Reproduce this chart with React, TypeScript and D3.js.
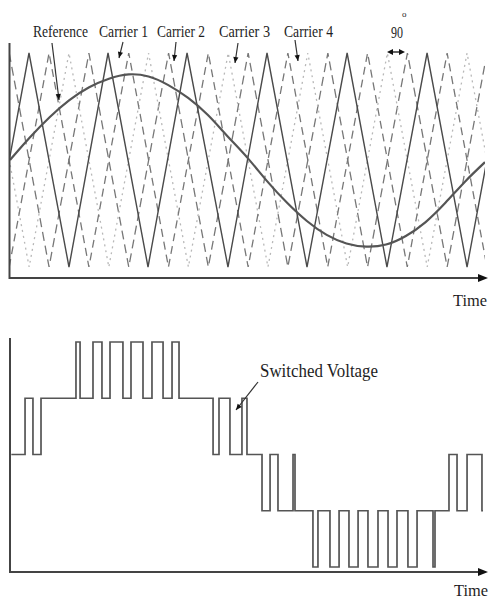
import React from 'react';
import * as d3 from 'd3';

const W = 491;
const H = 599;

// Reference (modulating) wave: angle (deg) -> value (carrier peak = 1)
const refAngles = [0, 15, 30, 45, 60, 75, 90, 105, 120, 135, 150, 165, 180, 195, 210, 225, 240, 255, 270, 285, 300, 315, 330, 345, 360];
const refValues = [0, 0.21, 0.4, 0.56, 0.68, 0.76, 0.8, 0.78, 0.7, 0.58, 0.42, 0.22, 0.02, -0.2, -0.4, -0.57, -0.7, -0.78, -0.81, -0.79, -0.71, -0.58, -0.4, -0.2, -0.02];

// Carrier vertices (deg): peaks (+1) and troughs (-1)
const carrier1Peaks = [14.4, 74.3, 134.2, 194.8, 255.5, 316.1, 376.5];
const carrier1Troughs = [-15.5, 44.7, 104.6, 165.2, 225.1, 285.7, 346.4];
const carrier2Peaks = [29.6, 90, 150.3, 210.6, 271, 331.3];
const carrier2Troughs = [-0.6, 59.8, 120.1, 180.5, 240.8, 301.1, 361.5];
const carrier3Peaks = [-15.6, 44.7, 105, 165.4, 225.7, 286, 346.4];
const carrier3Troughs = [14.5, 74.9, 135.2, 195.5, 255.9, 316.2, 376.5];
const carrier4Peaks = [-0.6, 59.8, 120.2, 180.5, 240.9, 301.2, 361.5];
const carrier4Troughs = [29.6, 90, 150.3, 210.6, 271, 331.3];

const carrierLabels = ['Carrier 1', 'Carrier 2', 'Carrier 3', 'Carrier 4'];

// Switched voltage: switching instants (deg) and the level taken at each instant
const switchTimes = [1, 11.4, 17.4, 23.5, 50, 53.1, 62.9, 69.7, 75.8, 85.6, 91.7, 100.8, 107.6, 116, 122.8, 128.1, 153.9, 158.4, 166.7, 175.8, 179.6, 191, 197.1, 203.1, 214.5, 216, 229.6, 233.4, 242.5, 249.4, 256.9, 263.8, 271.3, 278.9, 286.5, 293.3, 301.6, 308.5, 320.6, 322.1, 332.7, 338.8, 346.4, 357.7, 358.5];
const switchLevels = [0, 1, 0, 1, 2, 1, 2, 1, 2, 1, 2, 1, 2, 1, 2, 1, 0, 1, 0, 1, 0, -1, 0, -1, 0, -1, -2, -1, -2, -1, -2, -1, -2, -1, -2, -1, -2, -1, -2, -1, 0, -1, 0, -1, -1];

const FONT = '"Liberation Serif", "Times New Roman", serif';
const INK = '#1e1e1e';

function head(x1: number, y1: number, x2: number, y2: number, len = 6, hw = 2.6) {
  const a = Math.atan2(y2 - y1, x2 - x1);
  const bx = x2 - len * Math.cos(a);
  const by = y2 - len * Math.sin(a);
  const px = -Math.sin(a) * hw;
  const py = Math.cos(a) * hw;
  return `${x2},${y2} ${bx + px},${by + py} ${bx - px},${by - py}`;
}

function Pointer({ x1, y1, x2, y2 }: { x1: number; y1: number; x2: number; y2: number }) {
  return (
    <g>
      <line x1={x1} y1={y1} x2={x2} y2={y2} stroke="#333" strokeWidth={1.2} />
      <polygon points={head(x1, y1, x2, y2)} fill="#111" />
    </g>
  );
}

function Label({ x, y, len, size = 17, children }: { x: number; y: number; len: number; size?: number; children: React.ReactNode }) {
  return (
    <text
      x={x}
      y={y}
      fontFamily={FONT}
      fontSize={size}
      fill={INK}
      textLength={len}
      lengthAdjust="spacingAndGlyphs"
    >
      {children}
    </text>
  );
}

export default function App() {
  const x = d3.scaleLinear().domain([0, 360]).range([10, 485]);
  const yTop = d3.scaleLinear().domain([-1, 1]).range([267, 53]);
  const yBot = d3.scaleLinear().domain([-2, 2]).range([567, 342]);

  const lineTop = d3
    .line<[number, number]>()
    .x((d) => x(d[0]))
    .y((d) => yTop(d[1]));

  const carrierPts = (peaks: number[], troughs: number[]) =>
    [...peaks.map((p) => [p, 1] as [number, number]), ...troughs.map((t) => [t, -1] as [number, number])].sort(
      (a, b) => a[0] - b[0]
    );

  const carriers = [
    { pts: carrierPts(carrier1Peaks, carrier1Troughs), stroke: '#4a4a4a', dash: undefined, w: 1.4 },
    { pts: carrierPts(carrier2Peaks, carrier2Troughs), stroke: '#777', dash: '8,5', w: 1.3 },
    { pts: carrierPts(carrier3Peaks, carrier3Troughs), stroke: '#b8b8b8', dash: '2,4', w: 1.3 },
    { pts: carrierPts(carrier4Peaks, carrier4Troughs), stroke: '#777', dash: '9,5', w: 1.3 },
  ];

  const refLine = d3
    .line<[number, number]>()
    .x((d) => x(d[0]))
    .y((d) => yTop(d[1]))
    .curve(d3.curveNatural);
  const refPts = refAngles.map((a, i) => [a, refValues[i]] as [number, number]);

  const stepLine = d3
    .line<[number, number]>()
    .x((d) => x(d[0]))
    .y((d) => yBot(d[1]))
    .curve(d3.curveStepAfter);
  const stepPts = switchTimes.map((t, i) => [t, switchLevels[i]] as [number, number]);

  const labelX = [99, 157, 219, 284];
  const labelLen = [49, 48, 51, 49];
  const pointers = [
    [123, 42, 119, 58],
    [176, 42, 174, 61],
    [238, 43, 235, 63],
    [295, 40, 298, 61],
  ];

  return (
    <svg width={W} height={H} style={{ position: 'absolute', left: 0, top: 0, background: '#fff' }}>
      <defs>
        <clipPath id="plotTop">
          <rect x={10} y={40} width={475} height={240} />
        </clipPath>
      </defs>
      <rect x={0} y={0} width={W} height={H} fill="#fff" />

      {/* ---------- top panel ---------- */}
      <g clipPath="url(#plotTop)">
        {carriers
          .slice()
          .reverse()
          .map((c, i) => (
            <path
              key={i}
              d={lineTop(c.pts) || ''}
              fill="none"
              stroke={c.stroke}
              strokeWidth={c.w}
              strokeDasharray={c.dash}
            />
          ))}
        <path d={refLine(refPts) || ''} fill="none" stroke="#555" strokeWidth={2.2} />
      </g>

      {/* axes top */}
      <line x1={9.5} y1={43} x2={9.5} y2={279} stroke="#444" strokeWidth={2} />
      <line x1={9} y1={278} x2={480} y2={278} stroke="#444" strokeWidth={2} />
      <polygon points={head(470, 278, 488, 278, 10, 4)} fill="#111" />

      {/* labels top */}
      <Label x={33} y={37} len={55}>Reference</Label>
      <Pointer x1={52} y1={43} x2={59} y2={100} />
      {carrierLabels.map((l, i) => (
        <g key={l}>
          <Label x={labelX[i]} y={37} len={labelLen[i]}>
            {l}
          </Label>
          <Pointer x1={pointers[i][0]} y1={pointers[i][1]} x2={pointers[i][2]} y2={pointers[i][3]} />
        </g>
      ))}

      {/* 90 degree annotation */}
      <Label x={391} y={38} len={12} size={16}>90</Label>
      <text x={402} y={17} fontFamily={FONT} fontSize={9} fill={INK}>
        o
      </text>
      <line x1={390} y1={52} x2={402} y2={52} stroke="#111" strokeWidth={1.3} />
      <polygon points={head(400, 52, 387, 52, 6, 3)} fill="#111" />
      <polygon points={head(392, 52, 405, 52, 6, 3)} fill="#111" />

      <Label x={453} y={306} len={34}>Time</Label>

      {/* ---------- bottom panel ---------- */}
      <path d={stepLine(stepPts) || ''} fill="none" stroke="#555" strokeWidth={1.7} />

      <line x1={10} y1={338} x2={10} y2={573} stroke="#444" strokeWidth={2} />
      <line x1={9} y1={572} x2={480} y2={572} stroke="#444" strokeWidth={2} />
      <polygon points={head(470, 572, 488, 572, 10, 4)} fill="#111" />

      <Label x={260} y={377} len={118} size={18}>Switched Voltage</Label>
      <Pointer x1={258} y1={382} x2={236} y2={410} />

      <Label x={454} y={596} len={34}>Time</Label>
    </svg>
  );
}
